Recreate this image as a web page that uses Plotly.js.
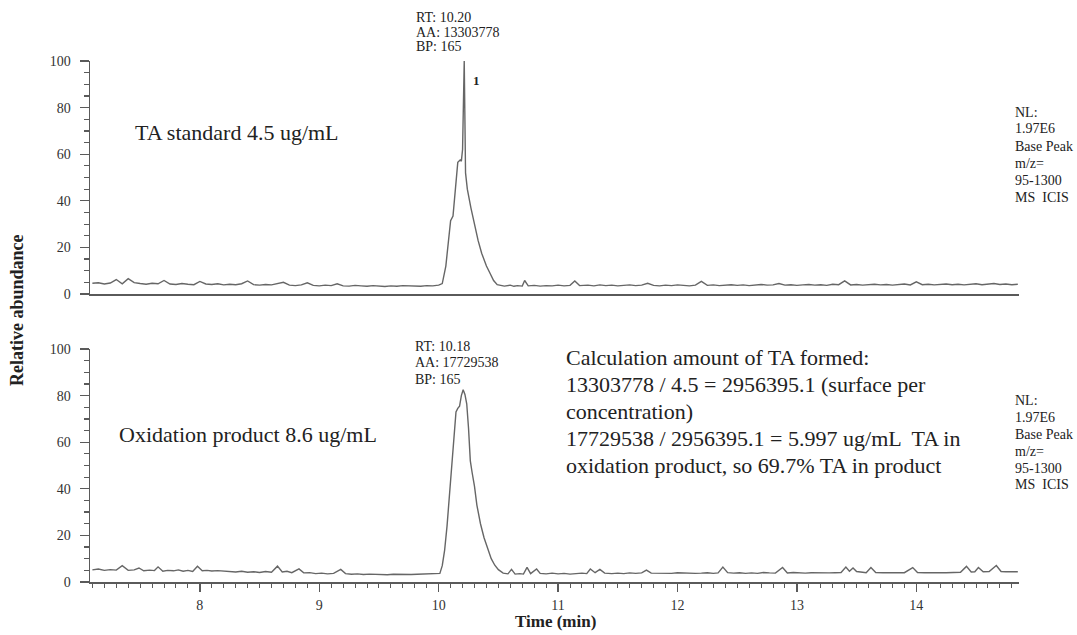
<!DOCTYPE html>
<html>
<head>
<meta charset="utf-8">
<script src="https://cdn.plot.ly/plotly-3.0.1.min.js"></script>
<style>html,body{margin:0;padding:0;background:#fff;}#chart{width:1077px;height:635px;}</style>
</head>
<body>
<div id="chart"></div>
<script>
// ---------- DATA ----------
const tTop = [7.10,7.15,7.20,7.25,7.30,7.35,7.40,7.45,7.50,7.55,7.60,7.65,7.70,7.75,7.80,7.85,7.90,7.95,8.00,8.05,8.10,8.15,8.20,8.25,8.30,8.35,8.40,8.45,8.50,8.55,8.60,8.65,8.70,8.75,8.80,8.85,8.90,8.95,9.00,9.05,9.10,9.15,9.20,9.25,9.30,9.35,9.40,9.45,9.50,9.55,9.60,9.65,9.70,9.75,9.80,9.85,9.90,9.95,10.00,
10.03,10.06,10.09,10.10,10.12,10.14,10.16,10.18,10.19,10.20,10.214,10.225,10.24,10.27,10.30,10.33,10.36,10.40,10.43,10.46,10.49,10.52,10.55,10.60,10.63,10.66,10.70,10.72,10.75,10.80,10.85,10.90,10.95,11.00,11.05,11.10,11.14,11.18,11.25,11.30,
11.35,11.40,11.45,11.50,11.55,11.60,11.65,11.70,11.75,11.80,11.85,11.90,11.95,12.00,12.05,12.10,12.15,12.20,12.25,12.30,12.35,12.40,12.45,12.50,12.55,12.60,12.65,12.70,12.75,12.80,12.85,12.90,12.95,13.00,13.05,13.10,13.15,13.20,13.25,13.30,13.35,13.40,13.45,13.50,13.55,13.60,13.65,13.70,13.75,13.80,13.85,13.90,13.95,14.00,14.05,14.10,14.15,14.20,14.25,14.30,14.35,14.40,14.45,14.50,14.55,14.60,14.65,14.70,14.75,14.80,14.85];
const yTop = [4.6,4.8,4.3,4.7,6.2,4.4,6.6,4.9,4.5,4.2,4.6,4.4,5.8,4.3,4.1,4.5,4.2,4.0,5.4,4.3,4.1,4.4,3.9,4.2,4.0,4.4,5.6,4.0,3.8,4.1,3.9,4.3,5.0,3.8,3.6,3.9,4.8,3.7,3.5,3.8,3.6,4.4,3.5,3.4,3.7,3.5,3.3,3.6,3.4,3.2,3.5,3.3,3.6,3.4,3.5,3.3,3.6,3.5,3.8,
4.5,12,28,31.5,33.5,44,56.5,57.5,57,62,100,52,45,37,29.5,23,17.5,12,8.9,5.8,4.0,3.6,3.4,3.8,3.3,3.6,3.4,5.8,3.5,3.7,3.4,3.6,3.5,3.8,3.5,3.7,5.6,3.6,3.8,3.5,
3.9,3.6,3.8,3.5,3.7,3.9,3.6,3.8,4.6,3.7,3.5,3.8,3.6,3.9,3.7,3.5,3.8,5.4,3.7,3.9,3.6,3.8,4.0,3.7,3.9,3.6,3.8,4.1,3.8,3.9,4.5,3.8,4.0,3.7,3.9,4.1,3.8,4.0,3.7,4.2,4.0,5.6,3.9,4.1,3.8,4.0,4.2,3.9,4.1,3.8,4.0,4.3,3.9,5.2,4.0,4.2,3.9,4.1,4.3,4.0,4.2,3.9,4.1,4.4,4.0,4.2,4.5,4.1,4.3,4.0,4.2];

const tBot = [7.10,7.15,7.20,7.25,7.30,7.35,7.40,7.45,7.49,7.53,7.58,7.62,7.65,7.69,7.73,7.78,7.82,7.86,7.90,7.94,7.98,8.02,8.06,8.10,8.15,8.20,8.25,8.30,8.35,8.40,8.45,8.50,8.55,8.60,8.65,8.69,8.73,8.77,8.83,8.87,8.92,8.97,9.02,9.07,9.12,9.18,9.22,9.27,9.32,9.37,9.42,9.47,9.52,9.57,9.62,9.67,9.72,9.77,9.82,9.87,9.92,9.97,
10.01,10.03,10.05,10.07,10.09,10.11,10.13,10.145,10.16,10.175,10.19,10.205,10.22,10.235,10.25,10.265,10.28,10.30,10.32,10.35,10.38,10.41,10.44,10.47,10.50,10.54,10.58,10.61,10.64,10.68,10.71,10.74,10.77,10.82,10.85,10.90,10.95,11.00,11.05,11.10,11.15,11.20,11.24,11.27,11.31,11.35,11.39,11.45,11.50,11.55,11.60,11.65,11.70,11.74,11.78,11.85,11.90,11.95,
12.00,12.05,12.10,12.15,12.20,12.25,12.30,12.34,12.38,12.42,12.47,12.52,12.57,12.62,12.67,12.72,12.77,12.82,12.88,12.92,12.97,13.02,13.07,13.12,13.17,13.22,13.27,13.32,13.37,13.41,13.44,13.47,13.50,13.55,13.58,13.62,13.66,13.72,13.78,13.84,13.90,13.97,14.01,14.07,14.13,14.19,14.25,14.31,14.37,14.42,14.46,14.49,14.52,14.56,14.61,14.67,14.71,14.75,14.80,14.85];
const yBot = [5.2,5.6,5.0,5.3,5.1,7.0,5.0,5.2,6.0,4.8,5.1,4.9,6.5,4.6,5.0,4.8,5.2,4.6,5.0,4.5,6.8,4.8,5.0,4.7,4.9,4.6,4.5,4.3,4.6,4.2,4.4,4.1,4.5,4.2,6.8,4.3,4.6,4.0,5.6,3.9,4.0,3.6,3.8,3.5,3.7,5.4,3.6,3.3,3.5,3.2,3.4,3.2,3.3,3.1,3.3,3.2,3.4,3.2,3.3,3.4,3.3,3.5,
3.7,7,13.7,24,38,52,66,73,74.5,75.5,80,82.5,80.5,76.5,66,52,47,41,33,25,19,14,10,7.2,5.3,3.8,3.5,5.4,3.4,3.6,3.4,6.3,3.6,5.6,3.7,3.5,3.8,3.5,3.7,3.4,3.6,3.8,3.6,5.6,4.0,5.4,3.8,3.6,3.8,3.6,3.9,3.7,3.9,5.1,3.8,3.7,3.9,3.7,
4.0,3.8,3.9,3.7,3.8,4.0,3.7,3.9,6.4,4.0,3.8,4.0,3.7,3.9,3.7,4.1,3.9,3.8,6.2,3.9,4.1,3.9,3.8,4.0,3.9,4.1,3.9,4.0,4.1,6.4,4.6,6.0,4.5,4.2,4.0,6.2,4.1,4.0,4.1,3.9,4.0,6.2,4.1,4.0,3.9,4.1,4.0,4.1,4.2,6.7,4.3,4.4,6.2,4.4,4.5,7.1,4.5,4.4,4.5,4.4];

const yTickVals = [0, 20, 40, 60, 80, 100];
const xTickVals = [8, 9, 10, 11, 12, 13, 14];
const topPeakInfo = ['RT: 10.20', 'AA: 13303778', 'BP: 165'];
const botPeakInfo = ['RT: 10.18', 'AA: 17729538', 'BP: 165'];
const peakLabel = '1';
const topSample = 'TA standard 4.5 ug/mL';
const botSample = 'Oxidation product 8.6 ug/mL';
const nlInfo = ['NL:', '1.97E6', 'Base Peak', 'm/z=', '95-1300', 'MS&nbsp;&nbsp;ICIS'];
const calcLines = ['Calculation amount of TA formed:', '13303778 / 4.5 = 2956395.1 (surface per', 'concentration)', '17729538 / 2956395.1 = 5.997 ug/mL  TA in', 'oxidation product, so 69.7% TA in product'];
const xTitle = 'Time (min)';
const yTitle = 'Relative abundance';

// ---------- LAYOUT HELPERS ----------
const W = 1077, H = 635;
const L = 90, R = 1019, T = 61, B = 582;
const px = x => (x - L) / (R - L);
const py = y => (B - y) / (B - T);
const SERIF = '"Liberation Serif", "Times New Roman", serif';
const LINE = '#5a5a5a';
const TRACE = '#666666';

const ann = [];
function addText(text, x, y, size, opts) {
  ann.push(Object.assign({
    text: text, xref: 'paper', yref: 'paper', x: px(x), y: py(y),
    xanchor: 'left', yanchor: 'middle', showarrow: false,
    font: {family: SERIF, size: size, color: '#222'}
  }, opts || {}));
}
topPeakInfo.forEach((s, i) => addText(s, 414, 17 + i * 15, 14));
botPeakInfo.forEach((s, i) => addText(s, 413, 346 + i * 16.5, 14));
addText('<b>' + peakLabel + '</b>', 476, 80, 13, {xanchor: 'center'});
addText(topSample, 133, 132, 22);
addText(botSample, 117, 434, 22);
nlInfo.forEach((s, i) => addText(s, 1013, 112 + i * 17, 14));
nlInfo.forEach((s, i) => addText(s, 1013, 400 + i * 17, 14));
calcLines.forEach((s, i) => addText(s, 564, 357 + i * 27, 22));
addText('<b>' + xTitle + '</b>', 555, 621, 17, {xanchor: 'center'});
addText('<b>' + yTitle + '</b>', 17, 310, 18, {xanchor: 'center', textangle: -90});

const traceStyle = {type: 'scatter', mode: 'lines', line: {color: TRACE, width: 1.4}, hoverinfo: 'skip'};
const data = [
  Object.assign({x: tTop, y: yTop, xaxis: 'x', yaxis: 'y'}, traceStyle),
  Object.assign({x: tBot, y: yBot, xaxis: 'x2', yaxis: 'y2'}, traceStyle)
];

const yAxisBase = {
  range: [0, 100], tickvals: yTickVals, ticks: 'outside', ticklen: 9, tickwidth: 1.3, tickcolor: LINE,
  showline: true, linecolor: LINE, linewidth: 1.5, showgrid: false, zeroline: false,
  ticklabelstandoff: 6,
  tickfont: {family: SERIF, size: 14, color: '#333'},
  minor: {dtick: 5, tick0: 0, ticks: 'outside', ticklen: 5, tickcolor: LINE, tickwidth: 1.2, showgrid: false},
  fixedrange: true
};
const xRange = [7.08, 14.86];
const layout = {
  width: W, height: H,
  margin: {l: L, r: W - R, t: T, b: H - B, pad: 0},
  paper_bgcolor: '#fff', plot_bgcolor: '#fff',
  showlegend: false,
  xaxis: {domain: [0, 1], range: xRange, anchor: 'y', showline: true, linecolor: LINE, linewidth: 1.8,
          ticks: '', showticklabels: false, showgrid: false, zeroline: false, fixedrange: true},
  yaxis: Object.assign({domain: [py(294), 1], anchor: 'x'}, yAxisBase),
  xaxis2: {domain: [0, 1], range: xRange, anchor: 'y2', showline: true, linecolor: LINE, linewidth: 1.5,
           tickvals: xTickVals, ticks: 'outside', ticklen: 8, tickwidth: 1.3, tickcolor: LINE,
           tickfont: {family: SERIF, size: 14, color: '#333'}, ticklabelstandoff: 2,
           minor: {dtick: 0.1, tick0: 0, ticks: 'outside', ticklen: 4, tickcolor: LINE, tickwidth: 1, showgrid: false},
           showgrid: false, zeroline: false, fixedrange: true},
  yaxis2: Object.assign({domain: [0, py(B - 233)], anchor: 'x2'}, yAxisBase),
  annotations: ann
};
Plotly.newPlot('chart', data, layout, {staticPlot: true, displayModeBar: false});
</script>
</body>
</html>
